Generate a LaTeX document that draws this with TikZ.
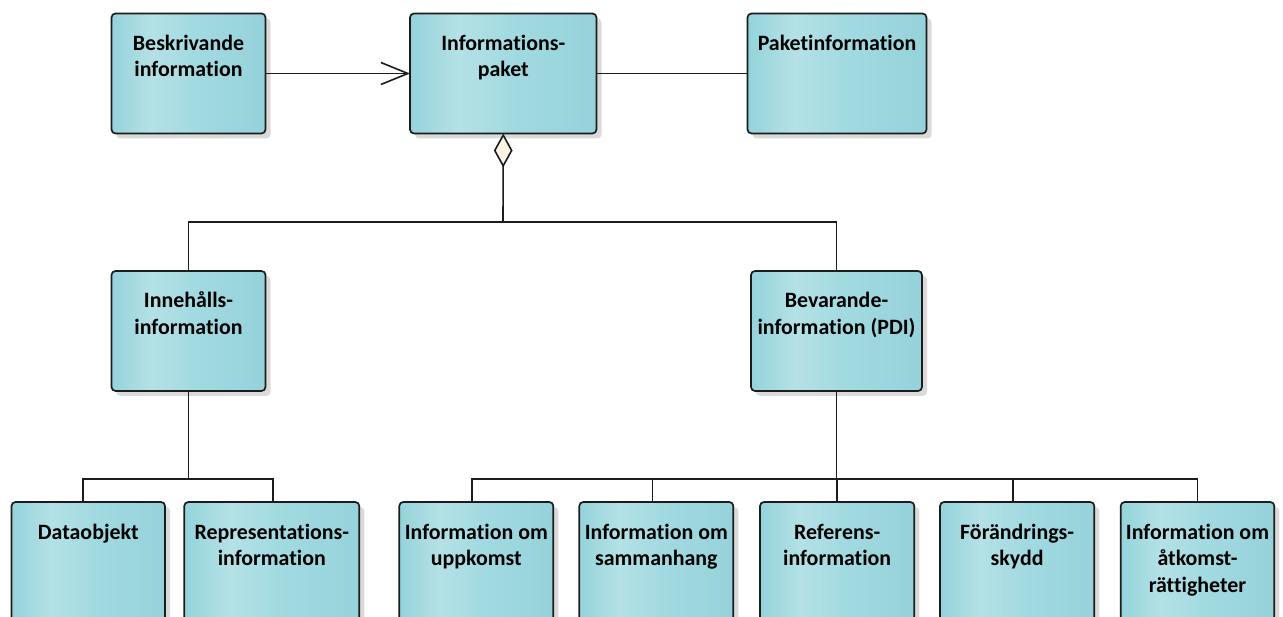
\documentclass[tikz,border=0pt]{standalone}
\usepackage{fontspec}
\setmainfont{Carlito}[Ligatures={NoCommon,NoContextual}]
\usetikzlibrary{arrows.meta,shadows}

\definecolor{boxA}{RGB}{148,211,219}
\definecolor{boxB}{RGB}{180,225,229}
\definecolor{boxC}{RGB}{162,218,225}
\definecolor{boxD}{RGB}{150,210,218}
\definecolor{linec}{RGB}{28,28,28}
\definecolor{shadowc}{RGB}{218,218,218}
\definecolor{diamc}{RGB}{252,243,228}

% soft horizontal band: darker at the edges, lighter left of the middle
\pgfdeclarehorizontalshading{boxshade}{100bp}{%
  color(0bp)=(boxA); color(25bp)=(boxA); color(38bp)=(boxB);
  color(52bp)=(boxC); color(75bp)=(boxD); color(100bp)=(boxD)}

\tikzset{
  umlbox/.style={draw=linec, line width=1.7pt, rounded corners=4pt,
    shading=boxshade, inner sep=0pt, outer sep=0pt, anchor=north west,
    drop shadow={shadow xshift=5pt, shadow yshift=-5pt, fill=shadowc, opacity=1}},
  conn/.style={draw=linec, line width=1.6pt},
}

% \umlnode{name}{left}{top}{right}{bottom}{text}
\newcommand\umlnode[6]{%
  \pgfmathsetmacro\bw{#4-#2}\pgfmathsetmacro\bh{#5-#3}%
  \node[umlbox] (#1) at (#2,#3)
    {\parbox[t][\bh pt][t]{\bw pt}{\centering\rule{0pt}{37pt}#6\par}};%
}

\begin{document}
\begin{tikzpicture}[x=1pt, y=-1pt,
  font=\fontsize{21.9}{26.5}\selectfont\bfseries]
\useasboundingbox (0,0) rectangle (1283,617);
\clip (0,0) rectangle (1283,617);

% top row
\umlnode{besk}{111.5}{13.5}{265.5}{133.5}{Beskrivande\\information}
\umlnode{ipak}{410}{13.5}{596.5}{133.5}{Informations-\\paket}
\umlnode{pinf}{747.5}{13.5}{926.5}{133.5}{Paketinformation}

% middle row
\umlnode{inneh}{111.5}{271}{265.5}{391}{Innehålls-\\information}
\umlnode{bev}{751}{271}{922}{391}{Bevarande-\\information (PDI)}

% bottom row
\umlnode{data}{11.5}{502}{165}{660}{Dataobjekt}
\umlnode{repr}{184.3}{502}{359.3}{660}{Representations-\\information}
\umlnode{upp}{399.3}{502}{553.3}{660}{Information om\\uppkomst}
\umlnode{samm}{579.3}{502}{733.3}{660}{Information om\\sammanhang}
\umlnode{ref}{760}{502}{914.3}{660}{Referens-\\information}
\umlnode{forand}{940}{502}{1094.3}{660}{Förändrings-\\skydd}
\umlnode{atk}{1120.7}{502}{1274.3}{660}{Information om\\åtkomst-\\rättigheter}

% associations
\draw[conn, -{Straight Barb[length=27pt, width=22pt]}] (besk) -- (ipak);
\draw[conn] (ipak) -- (pinf);

% aggregation bus
\coordinate (busA) at (503,222);
\draw[conn] (inneh.north) |- (busA) -| (bev.north);
\draw[conn, -{Diamond[length=34pt, width=18.7pt, fill=diamc]}] (busA) -- (ipak.south);

% left composition bus
\coordinate (busB) at (189,479);
\draw[conn] (inneh.south) -- (inneh.south |- busB);
\draw[conn] ([xshift=-5pt]data.north) |- (busB) -| ([xshift=1pt]repr.north);

% right composition bus
\coordinate (busC) at (837,479);
\draw[conn] (bev.south) -- (bev.south |- busC);
\draw[conn] ([xshift=-4.6pt]upp.north) |- (busC) -| (atk.north);
\draw[conn] ([xshift=-4pt]samm.north) -- ([xshift=-4pt]samm.north |- busC);
\draw[conn] (ref.north) -- (ref.north |- busC);
\draw[conn] ([xshift=-4.3pt]forand.north) -- ([xshift=-4.3pt]forand.north |- busC);
\end{tikzpicture}
\end{document}
